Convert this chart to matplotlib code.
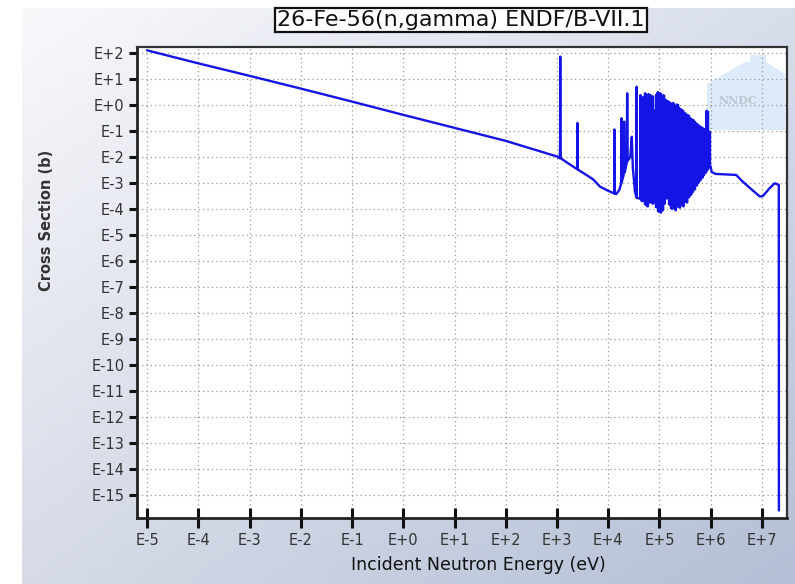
"""
26-Fe-56(n,gamma) capture cross section, ENDF/B-VII.1 (NNDC style plot).
"""

import numpy as np
import matplotlib
matplotlib.use("Agg")
import matplotlib.pyplot as plt
from matplotlib.patches import Polygon
from matplotlib.ticker import FixedLocator, FuncFormatter, NullLocator

# keep every resonance spike, no path merging
plt.rcParams["path.simplify"] = False

# --- data (log10 of energy in eV, log10 of cross section in b) ---
# smooth 1/v part
low_loge = [-5.0, -4.0, -3.0, -2.0, -1.0, 0.0, 1.0, 2.0, 2.7, 3.0, 3.05]
low_logxs = [2.10, 1.60, 1.12, 0.63, 0.13, -0.38, -0.88, -1.38, -1.80, -1.98, -2.05]

# resolved resonances below the dense region
res_loge = [3.055, 3.060, 3.063, 3.066, 3.075, 3.20, 3.395, 3.400, 3.405,
            3.70, 3.84, 4.00, 4.115, 4.120, 4.125, 4.16, 4.22, 4.255, 4.260,
            4.265, 4.30, 4.31, 4.32, 4.36, 4.37, 4.38, 4.43, 4.46, 4.48, 4.52,
            4.550, 4.555, 4.560, 4.60, 4.625, 4.630, 4.635, 4.66]
res_logxs = [-1.95, -1.55, 1.86, -1.55, -2.05, -2.22, -2.47, -0.69, -2.48,
             -2.85, -3.14, -3.30, -3.40, -0.94, -3.41, -3.42, -3.25, -3.00, -0.51,
             -2.95, -2.70, -0.64, -2.60, -2.25, 0.45, -2.15, -2.00, -1.22, -2.40, -3.30,
             -3.55, 0.70, -3.58, -3.58, -3.60, 0.38, -3.62, -3.70]

# dense block: peak and dip of each resonance
block_loge = [4.68, 4.72, 4.75, 4.79, 4.83, 4.86, 4.90, 4.94, 4.97, 5.01,
              5.05, 5.08, 5.12, 5.16, 5.19, 5.23, 5.27, 5.30, 5.34, 5.38,
              5.41, 5.45, 5.49, 5.52, 5.56, 5.60, 5.63, 5.67, 5.71, 5.74,
              5.78, 5.82, 5.85, 5.89, 5.92, 5.96]
block_peak = [0.30, 0.45, 0.10, 0.42, 0.20, 0.35, -0.20, 0.40, 0.50, 0.45,
              0.30, 0.38, 0.20, 0.15, 0.10, 0.05, 0.08, -0.05, 0.02, -0.10,
              -0.15, -0.20, -0.30, -0.35, -0.40, -0.50, -0.55, -0.60, -0.70, -0.75,
              -0.80, -0.85, -0.90, -0.95, -0.22, -1.00]
block_dip = [-3.70, -3.85, -3.90, -3.75, -3.60, -3.80, -3.70, -3.95, -4.10, -4.14,
             -4.05, -3.80, -3.60, -3.50, -3.85, -4.00, -3.95, -4.05, -3.90, -3.95,
             -3.85, -3.90, -3.70, -3.75, -3.55, -3.45, -3.35, -3.25, -3.10, -3.00,
             -2.90, -2.80, -2.70, -2.60, -2.50, -2.40]

# fast region up to 20 MeV
high_loge = [6.00, 6.02, 6.10, 6.50, 6.60, 6.80, 6.96, 7.02, 7.15, 7.25, 7.31, 7.33, 7.332]
high_logxs = [-2.37, -2.58, -2.65, -2.69, -2.90, -3.25, -3.52, -3.50, -3.20, -3.01, -3.05, -3.08, -15.58]

# each dip sits halfway to the next resonance so the zigzag fills in
block_e = []
block_v = []
for e, p, d in zip(block_loge, block_peak, block_dip):
    block_e += [e, e + 0.018]
    block_v += [p, d]

energy = 10.0 ** np.array(low_loge + res_loge + block_e + high_loge)
xs = 10.0 ** np.array(low_logxs + res_logxs + block_v + high_logxs)

xtick_exp = list(range(-5, 8))
ytick_exp = list(range(-15, 3))

W, H = 795, 584
fig = plt.figure(figsize=(W / 100, H / 100), dpi=100)
fig.patch.set_facecolor("white")

# bluish gradient panel behind everything
bg = fig.add_axes([22 / W, 0, 1 - 22 / W, 1 - 8 / H], zorder=-10)
gx = np.linspace(0, 1, 200)[None, :]
gy = np.linspace(0, 1, 200)[:, None]
tl = np.array([248, 249, 251]) / 255
tr = np.array([216, 222, 235]) / 255
bl = np.array([214, 219, 231]) / 255
br = np.array([180, 190, 214]) / 255
grad = ((1 - gx) * (1 - gy))[..., None] * tl + (gx * (1 - gy))[..., None] * tr + \
       ((1 - gx) * gy)[..., None] * bl + (gx * gy)[..., None] * br
bg.imshow(grad, aspect="auto", extent=[0, 1, 0, 1])
bg.axis("off")

ax = fig.add_axes([137 / W, (H - 518) / H, 650 / W, 471 / H])
ax.set_facecolor("white")
ax.set_xscale("log")
ax.set_yscale("log")
ax.set_xlim(10 ** -5.2, 10 ** 7.49)
ax.set_ylim(10 ** -15.88, 10 ** 2.23)

# NNDC watermark
house = [(707, 130), (707, 84), (745, 62), (750, 62), (750, 55), (766, 55),
         (766, 62), (785, 74), (785, 130)]
house_ax = [((x - 137) / 650, (518 - y) / 471) for x, y in house]
ax.add_patch(Polygon(house_ax, closed=True, transform=ax.transAxes,
                     facecolor="#d6e7f8", edgecolor="none", alpha=0.85, zorder=0.3))
ax.text((738 - 137) / 650, (518 - 100) / 471, "NNDC", transform=ax.transAxes,
        ha="center", va="center", fontsize=8, family="DejaVu Serif",
        fontweight="bold", color="#bcc7d2", zorder=0.35)

line_color = "#1414e6"
ax.plot(energy, xs, color=line_color, linewidth=1.7, zorder=2)
# the dense resonances, each drawn on its own so the block reads solid
ax.vlines(10.0 ** np.array(block_e), 10.0 ** np.array(block_dip).repeat(2),
          10.0 ** np.array(block_peak).repeat(2), color=line_color,
          linewidth=1.7, zorder=2)

ax.xaxis.set_major_locator(FixedLocator([10.0 ** e for e in xtick_exp]))
ax.yaxis.set_major_locator(FixedLocator([10.0 ** e for e in ytick_exp]))
ax.xaxis.set_minor_locator(NullLocator())
ax.yaxis.set_minor_locator(NullLocator())
fmt = FuncFormatter(lambda v, p: "E%+d" % int(round(np.log10(v))))
ax.xaxis.set_major_formatter(fmt)
ax.yaxis.set_major_formatter(fmt)

ax.set_axisbelow(True)
ax.grid(True, which="major", color="#9a9a9a", linestyle=(0, (1, 2.5)), linewidth=0.9)

ax.tick_params(axis="y", direction="out", length=6, width=2.2, color="#111111",
               labelsize=10.5, labelcolor="#333333", pad=3)
ax.tick_params(axis="x", direction="inout", length=14, width=2.2, color="#111111",
               labelsize=10.5, labelcolor="#333333", pad=4)
for side in ["left", "bottom"]:
    ax.spines[side].set_linewidth(2.0)
    ax.spines[side].set_color("#222222")
for side in ["top", "right"]:
    ax.spines[side].set_linewidth(1.6)
    ax.spines[side].set_color("#333333")

fig.text(47 / W, 1 - 220 / H, "Cross Section (b)", rotation=90, ha="center",
         va="center", fontsize=10.5, fontweight="bold", color="#333333")
fig.text(478 / W, 1 - 565 / H, "Incident Neutron Energy (eV)", ha="center",
         va="center", fontsize=12.5, color="#111111")
fig.text(461 / W, 1 - 20 / H, "26-Fe-56(n,gamma) ENDF/B-VII.1", ha="center",
         va="center", fontsize=16, color="#111111",
         bbox=dict(boxstyle="square,pad=0.1", facecolor="white",
                   edgecolor="#111111", linewidth=1.6))

fig.savefig("out.png", dpi=100)
